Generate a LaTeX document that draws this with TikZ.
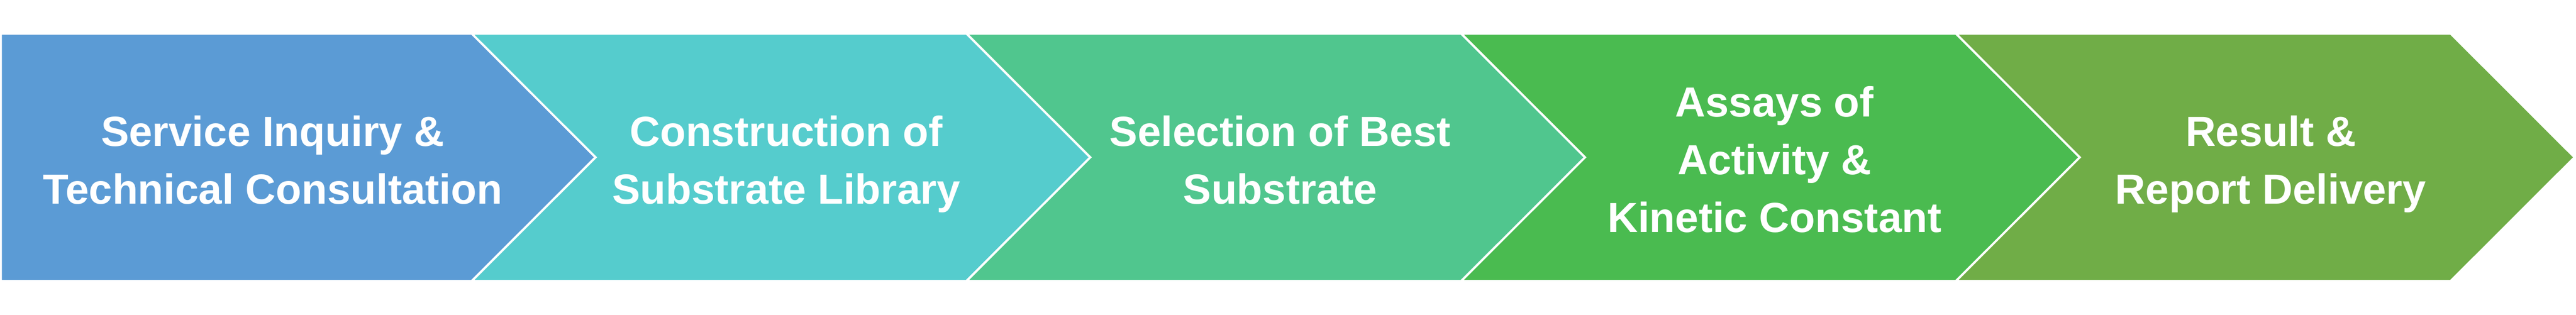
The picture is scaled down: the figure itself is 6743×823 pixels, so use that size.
\documentclass[tikz,border=0pt]{standalone}
\usepackage{fontspec}
\setmainfont{Liberation Sans}
\usepackage{xcolor}
\usepackage{tikz}
\usetikzlibrary{positioning}

\definecolor{stepblue}{RGB}{91,155,213}
\definecolor{stepteal}{RGB}{85,204,205}
\definecolor{stepmint}{RGB}{80,198,142}
\definecolor{stepgreen}{RGB}{74,187,80}
\definecolor{stepolive}{RGB}{112,173,71}

\tikzset{
	chev/.style={fill=#1, draw=white, line width=1.6pt, line join=miter},
	steptext/.style={text=white, font=\bfseries\fontsize{31.3}{43}\selectfont, align=center, anchor=base}
}

\begin{document}
\begin{tikzpicture}[x=0.01cm, y=0.01cm]
			    		\useasboundingbox (0,0) rectangle (6743,823);
			    		% first step: flat left edge
			    		\draw[chev=stepblue] (2,735)--(1235,735)--(1559,411.5)--(1235,88)--(2,88)--cycle;
			    		% the other four steps
			    		\foreach \i/\c in {0/stepteal, 1/stepmint, 2/stepgreen, 3/stepolive}
			    			\draw[chev=\c] ({1235+1295*\i},735)--++(1295,0)--++(324,-323.5)--++(-324,-323.5)--++(-1295,0)--++(324,323.5)--cycle;
						\node[steptext] (inquiry) at (714, 290) {Service Inquiry \&\\Technical Consultation};
						\node[steptext] (library) at (2058, 290) {Construction of\\Substrate Library};
						\node[steptext] (selection) at (3351, 290) {Selection of Best\\Substrate};
						\node[steptext] (assays) at (4645, 215) {Assays of\\Activity \&\\Kinetic Constant};
						\node[steptext] (report) at (5944, 290) {Result \&\\Report Delivery};
			    	\end{tikzpicture}
\end{document}
